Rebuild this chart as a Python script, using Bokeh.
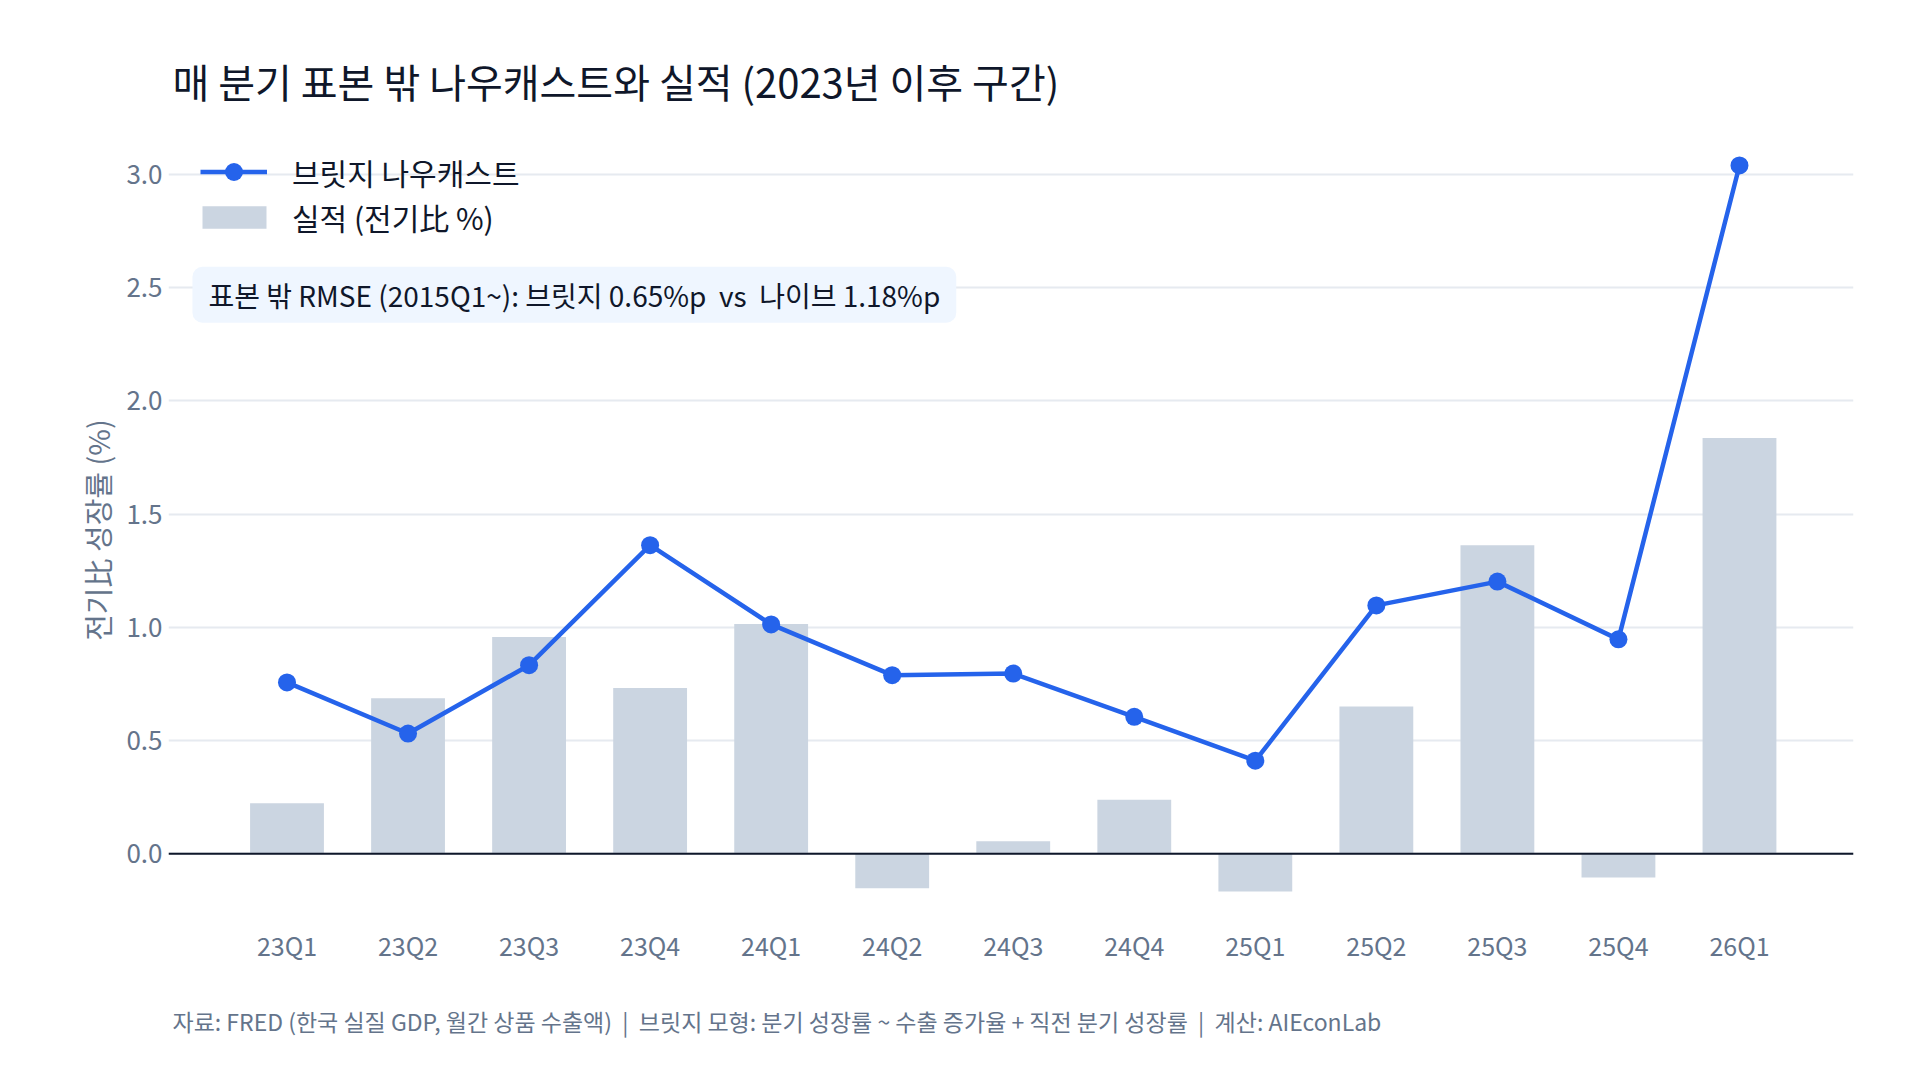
from bokeh.plotting import figure
from bokeh.models import (Range1d, FixedTicker, Label, Title, Legend, LegendItem,
                          Span, ColumnDataSource, PrintfTickFormatter)
from bokeh.embed import file_html
from bokeh.resources import INLINE

# ---- data ----
quarters = ["23Q1", "23Q2", "23Q3", "23Q4", "24Q1", "24Q2", "24Q3",
            "24Q4", "25Q1", "25Q2", "25Q3", "25Q4", "26Q1"]
nowcast = [0.757, 0.531, 0.833, 1.363, 1.013, 0.789, 0.796,
           0.605, 0.411, 1.097, 1.202, 0.947, 3.04]
actual = [0.223, 0.687, 0.957, 0.732, 1.015, -0.152, 0.055,
          0.239, -0.167, 0.650, 1.363, -0.105, 1.836]
y_ticks = [0.0, 0.5, 1.0, 1.5, 2.0, 2.5, 3.0]

NB = "\u00a0"
title_text = "매 분기 표본 밖 나우캐스트와 실적 (2023년 이후 구간)"
legend_line = "브릿지 나우캐스트"
legend_bar = "실적 (전기比 %)"
note_text = f"표본 밖 RMSE (2015Q1~): 브릿지 0.65%p {NB}vs{NB} 나이브 1.18%p"
y_title = "전기比 성장률 (%)"
footer_text = (f"자료: FRED (한국 실질 GDP, 월간 상품 수출액) {NB}|{NB} 브릿지 모형: 분기 성장률 ~ "
               f"수출 증가율 + 직전 분기 성장률 {NB}|{NB} 계산: AIEconLab")

FONT = "Noto Sans CJK KR"
BLUE = "#2563eb"
BAR = "#cbd5e1"
MUTED = "#64748b"
DARK = "#0f172a"

xs = list(range(len(quarters)))
src = ColumnDataSource(dict(x=xs, q=quarters, nowcast=nowcast, actual=actual))

FRAME_BOTTOM = 928
p = figure(width=1920, height=1080, output_backend="svg", toolbar_location=None,
           x_range=Range1d(-0.979, 12.942), y_range=Range1d(-0.33, 3.19),
           min_border_left=168, min_border_right=67, min_border_top=131,
           min_border_bottom=1080 - FRAME_BOTTOM)
p.outline_line_color = None
p.background_fill_color = "white"
p.border_fill_color = "white"

# title
p.title.text = title_text
p.title.text_font = FONT
p.title.text_font_size = "40px"
p.title.text_font_style = "normal"
p.title.text_color = DARK
p.title.align = "left"
p.title.offset = 4
p.title.standoff = 43

# grid
p.xgrid.visible = False
p.ygrid.ticker = FixedTicker(ticks=y_ticks)
p.ygrid.grid_line_color = "#e6eaf0"
p.ygrid.grid_line_width = 2

# axes
p.yaxis.ticker = FixedTicker(ticks=y_ticks)
p.yaxis.formatter = PrintfTickFormatter(format="%.1f")
p.xaxis.ticker = FixedTicker(ticks=xs)
p.xaxis.major_label_overrides = {i: q for i, q in zip(xs, quarters)}
for ax in (p.xaxis[0], p.yaxis[0]):
    ax.axis_line_color = None
    ax.major_tick_line_color = None
    ax.minor_tick_line_color = None
    ax.major_label_text_font = FONT
    ax.major_label_text_color = MUTED
p.xaxis.major_label_text_font_size = "25px"
p.yaxis.major_label_text_font_size = "26px"
p.yaxis.major_label_standoff = 0
p.xaxis.major_label_standoff = -8
p.yaxis.axis_label = y_title
p.yaxis.axis_label_text_font = FONT
p.yaxis.axis_label_text_font_size = "29px"
p.yaxis.axis_label_text_font_style = "normal"
p.yaxis.axis_label_text_color = MUTED
p.yaxis.axis_label_standoff = 5

# bars
bar_r = p.vbar(x="x", top="actual", bottom=0, width=0.61, source=src,
               fill_color=BAR, line_color=None)
# zero line
p.add_layout(Span(location=0, dimension="width", line_color=DARK, line_width=2))
# line + markers
line_r = p.line(x="x", y="nowcast", source=src, line_color=BLUE, line_width=4.5)
pt_r = p.scatter(x="x", y="nowcast", source=src, size=18, fill_color=BLUE,
                 line_color=None)

# legends (two, to keep marker size and rect height like the reference)
leg1 = Legend(items=[LegendItem(label=legend_line, renderers=[line_r, pt_r])],
              location=(32, FRAME_BOTTOM - (171 + 23)), glyph_width=67, glyph_height=45,
              label_height=45, label_standoff=25, padding=0, margin=0,
              background_fill_alpha=0, border_line_color=None,
              label_text_font=FONT, label_text_font_size="30px",
              label_text_color=DARK)
leg2 = Legend(items=[LegendItem(label=legend_bar, renderers=[bar_r])],
              location=(26, FRAME_BOTTOM - (218 + 21)), glyph_width=80, glyph_height=28,
              label_height=28, label_standoff=18, padding=0, margin=0,
              background_fill_alpha=0, border_line_color=None,
              label_text_font=FONT, label_text_font_size="30px",
              label_text_color=DARK)
p.add_layout(leg1)
p.add_layout(leg2)

# note box
p.add_layout(Label(x=-0.781, y=2.469, text=note_text, text_font=FONT,
                   text_font_size="28px", text_color=DARK, text_baseline="middle",
                   text_align="left", background_fill_color="#eff6ff",
                   border_line_color=None, padding=(16, 8), border_radius=10))

# footer
p.add_layout(Title(text=footer_text, align="left", offset=4, text_font=FONT,
                   text_font_size="23px", text_font_style="normal",
                   text_color=MUTED, standoff=40, vertical_align="top",
                   padding=(0, 18)), "below")

open("out.html", "w").write(file_html(p, INLINE))
